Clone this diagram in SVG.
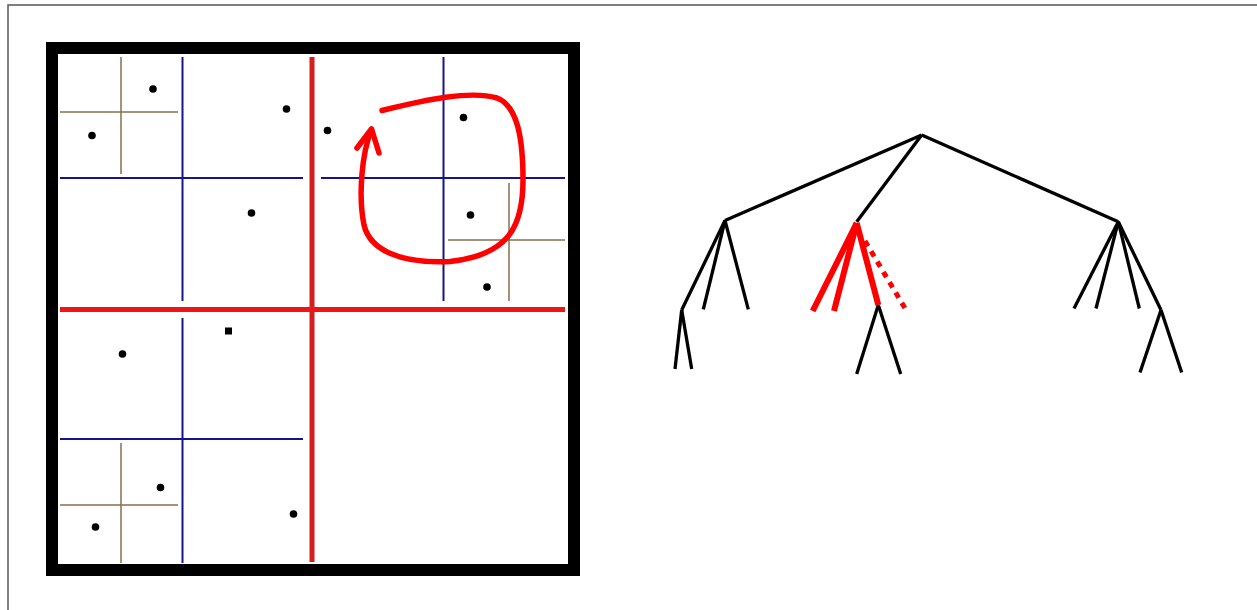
<svg xmlns="http://www.w3.org/2000/svg" width="1257" height="610" viewBox="0 0 1257 610">
<style>
.frame{stroke:#555;stroke-width:1.5;fill:none}
.blue{stroke:#14148f;stroke-width:2;fill:none}
.brown{stroke:#8b6c4e;stroke-width:1.5;fill:none}
.redv{stroke:#d41f1f;stroke-width:5;fill:none}
.redh{stroke:#f01515;stroke-width:5;fill:none}
.pt{fill:#000}
.edge{stroke:#000;stroke-width:3.3;fill:none;stroke-linecap:butt}
.hot{stroke:#ff0000;stroke-width:6;fill:none}
.dash{stroke:#ff0000;stroke-width:5;fill:none;stroke-dasharray:6 6}
.arrow{stroke:#ff0000;stroke-width:5.5;fill:none;stroke-linecap:round;stroke-linejoin:round}
</style>
<rect width="1257" height="610" fill="#fff"/>
<path class="frame" d="M8,610 V5 H1257"/>
<g id="quadtree">
<rect x="52" y="48" width="522" height="522" fill="#fff" stroke="#000" stroke-width="12"/>
<g id="brown-lines">
<line class="brown" x1="121" y1="57" x2="121" y2="174"/>
<line class="brown" x1="60" y1="112" x2="178" y2="112"/>
<line class="brown" x1="509" y1="183" x2="509" y2="301"/>
<line class="brown" x1="448" y1="240" x2="565" y2="240"/>
<line class="brown" x1="121" y1="443" x2="121" y2="563"/>
<line class="brown" x1="60" y1="505" x2="178" y2="505"/>
</g>
<g id="blue-lines">
<line class="blue" x1="182.5" y1="57" x2="182.5" y2="301"/>
<line class="blue" x1="60" y1="178" x2="303" y2="178"/>
<line class="blue" x1="443.5" y1="57" x2="443.5" y2="301"/>
<line class="blue" x1="321" y1="178" x2="565" y2="178"/>
<line class="blue" x1="182.5" y1="318" x2="182.5" y2="563"/>
<line class="blue" x1="60" y1="439" x2="303" y2="439"/>
</g>
<g id="red-lines">
<line class="redv" x1="312" y1="57" x2="312" y2="562"/>
<line class="redh" x1="60" y1="309.5" x2="565" y2="309.5"/>
</g>
<g id="points">
<circle class="pt" cx="153" cy="89" r="3.8"/>
<circle class="pt" cx="92" cy="135.5" r="3.8"/>
<circle class="pt" cx="286.5" cy="109" r="3.8"/>
<circle class="pt" cx="251.5" cy="213" r="3.8"/>
<circle class="pt" cx="327.5" cy="130.5" r="3.8"/>
<circle class="pt" cx="463.5" cy="117.5" r="3.8"/>
<circle class="pt" cx="470.5" cy="215" r="3.8"/>
<circle class="pt" cx="487" cy="287" r="3.8"/>
<rect class="pt" x="225" y="327.5" width="7" height="7"/>
<circle class="pt" cx="122.5" cy="354" r="3.8"/>
<circle class="pt" cx="160.5" cy="487.5" r="3.8"/>
<circle class="pt" cx="95.5" cy="527" r="3.8"/>
<circle class="pt" cx="293.5" cy="514" r="3.8"/>
</g>
<g id="loop-arrow">
<path class="arrow" d="M382,110.5 C425,100 470,90 497,98 C518,106 523,140 523,180 C523,225 510,255 450,261.5 C400,264 370,250 364,225 C358,195 362,152 371.5,130"/>
<path class="arrow" d="M357,148 L371.5,129 L379,153"/>
</g>
</g>
<g id="tree">
<g id="connectors">
<line class="edge" x1="921.7" y1="135" x2="725" y2="220.5"/>
<line class="edge" x1="921.7" y1="135" x2="856.7" y2="221.7"/>
<line class="edge" x1="921.7" y1="135" x2="1118.3" y2="221.7"/>
<line class="edge" x1="725" y1="220.5" x2="681.7" y2="310"/>
<line class="edge" x1="725" y1="220.5" x2="703.3" y2="309.3"/>
<line class="edge" x1="725" y1="220.5" x2="748.3" y2="309.3"/>
<line class="edge" x1="681.7" y1="310" x2="675" y2="369"/>
<line class="edge" x1="681.7" y1="310" x2="691.7" y2="369"/>
<line class="edge" x1="878.3" y1="305" x2="856.7" y2="374"/>
<line class="edge" x1="878.3" y1="305" x2="900.7" y2="374"/>
<line class="edge" x1="1118.3" y1="221.7" x2="1074" y2="308.5"/>
<line class="edge" x1="1118.3" y1="221.7" x2="1096" y2="308.5"/>
<line class="edge" x1="1118.3" y1="221.7" x2="1139.3" y2="308.5"/>
<line class="edge" x1="1118.3" y1="221.7" x2="1161" y2="310"/>
<line class="edge" x1="1161" y1="310" x2="1140" y2="372.5"/>
<line class="edge" x1="1161" y1="310" x2="1181.7" y2="372.5"/>
<line class="hot" x1="856.7" y1="223" x2="812.7" y2="311"/>
<line class="hot" x1="856.7" y1="223" x2="834" y2="311"/>
<line class="hot" x1="856.7" y1="223" x2="878.3" y2="305"/>
<line class="dash" x1="865" y1="241" x2="906" y2="310"/>
</g>
</g>
</svg>
